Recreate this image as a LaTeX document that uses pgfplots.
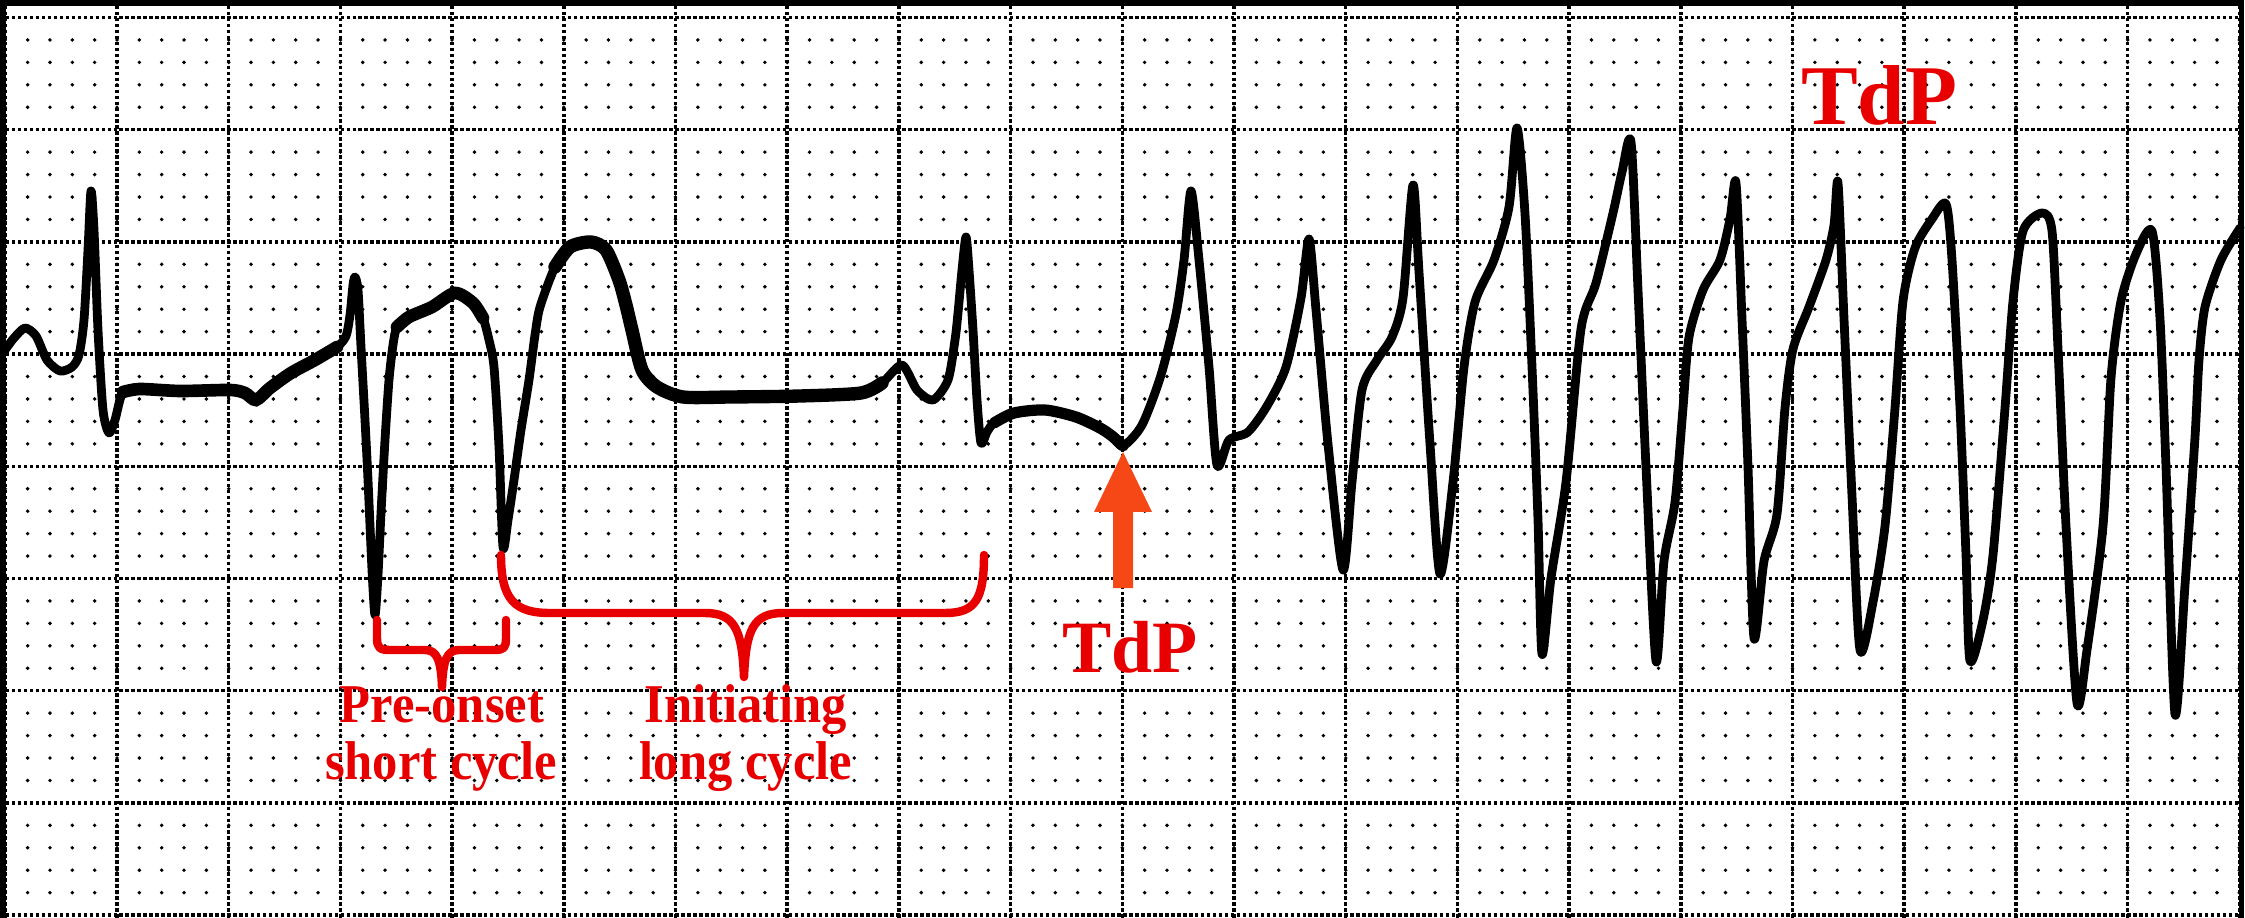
\documentclass[border=0pt]{standalone}
\usepackage{pgfplots}
\pgfplotsset{compat=1.18}
\usepackage{fontspec}
\setmainfont{Liberation Serif}
\definecolor{ecgred}{RGB}{232,0,0}
\definecolor{arroworange}{RGB}{245,72,22}

\begin{document}
\begin{tikzpicture}
\useasboundingbox (0,0) rectangle (22.45,9.18);
\begin{axis}[
  at={(0,0)}, anchor=south west,
  width=22.45cm, height=9.18cm, scale only axis,
  xmin=0, xmax=2245, ymin=0, ymax=918, y dir=reverse,
  axis line style={draw=none},
  xtick={5.3,117,228.7,340.4,452.1,563.8,675.5,787.2,898.9,1010.6,1122.3,1234.0,1345.7,1457.4,1569.1,1680.8,1792.5,1904.2,2015.9,2127.6,2239.3},
  ytick={17.5,129.7,241.9,354.1,466.3,578.5,690.7,802.9,915.1},
  minor y tick num=4,
  xticklabels={}, yticklabels={},
  tick style={draw=none},
  xmajorgrids, ymajorgrids, yminorgrids,
  major grid style={black, line width=1.0pt, dash pattern=on 1.0pt off 0.7pt},
  minor grid style={black, line width=1.1pt, line cap=round, dash pattern=on 0pt off 6.3564pt, dash phase=4.848pt},
]
% ECG trace
\addplot[black, line width=2.5pt, smooth, tension=0.45, line join=round, line cap=round] coordinates {
(5,350) (14,338) (25,328) (36,336) (47,360) (60,371) (72,367) (79,355) (84,320) (88,250) (91,191)
(94,230) (98,330) (103,410) (109,433) (115,420) (123,392) (140,389) (180,391) (230,390) (245,393)
(256,400) (270,388) (291,373) (315,360) (337,347) (346,336) (350,315) (353,285) (355,277)
(358,290) (361,347) (365,420) (368,480) (372,570) (375,615) (378,575) (381,513) (385,440) (389,380)
(393,345) (397,327) (409,317) (432,307) (455,293) (473,303) (483,318) (489,340) (494,367) (499,447)
(503,547) (508,520) (514,480) (521,430) (529,380) (535,335) (540,307) (555,267) (570,247) (591,242)
(606,250) (619,280) (626,305) (632,330) (642,370) (657,387) (683,397) (730,397) (800,396) (861,393)
(882,383) (902,365) (917,390) (933,400) (948,380) (955,340) (958,313) (962,270) (966,237)
(969,270) (973,330) (977,400) (981,443) (987,432) (994,423) (1014,413) (1045,410) (1076,417) (1100,428)
(1112,436) (1123,446) (1142,425) (1161,375) (1176,314) (1184,260) (1191,191)
(1199,260) (1209,367) (1217,465) (1229,440) (1248,432) (1267,406) (1286,367) (1301,298) (1309,239)
(1316,310) (1328,444) (1343,570) (1352,482) (1362,390) (1377,360) (1392,337) (1403,298) (1413,185)
(1419,272) (1430,444) (1440,574) (1453,482) (1464,367) (1475,302) (1494,260) (1509,207) (1517,128)
(1525,214) (1532,367) (1538,520) (1542,654) (1551,578) (1566,482) (1581,329) (1596,283) (1613,213) (1622,172) (1631,142)
(1638,290) (1646,467) (1656,661) (1664,561) (1675,502) (1683,408) (1689,337) (1703,290) (1720,260) (1730,219) (1736,183)
(1742,319) (1748,467) (1754,638) (1764,561) (1777,514) (1785,408) (1793,349) (1809,307) (1826,260) (1834,225) (1838,183)
(1844,319) (1852,496) (1860,650) (1873,602) (1885,526) (1895,408) (1903,301) (1915,248) (1932,219) (1946,204)
(1952,260) (1960,408) (1966,555) (1970,661) (1983,620) (1993,555) (2005,408) (2013,301) (2023,231) (2042,213)
(2052,231) (2058,349) (2066,526) (2077,703) (2087,650) (2103,526) (2111,378) (2121,301) (2136,254) (2152,231)
(2160,319) (2166,467) (2175,714) (2185,585) (2195,437) (2199,360) (2205,307) (2221,260) (2240,228)
};
% heavier pen on the slow segments
\addplot[black, line width=3.6pt, smooth, tension=0.45, line cap=round] coordinates {
(123,392) (140,389) (180,391) (230,390) (245,393) (256,400) (270,388) (291,373) (315,360) (337,347)};
\addplot[black, line width=3.6pt, smooth, tension=0.45, line cap=round] coordinates {
(397,327) (409,317) (432,307) (455,293) (473,303) (483,318)};
\addplot[black, line width=3.8pt, smooth, tension=0.45, line cap=round] coordinates {
(555,267) (570,247) (591,242) (606,250) (619,280) (626,305) (632,330) (642,370) (657,387) (683,397) (730,397) (800,396) (861,393) (882,383)};
\addplot[black, line width=3.2pt, smooth, tension=0.45, line cap=round] coordinates {
(994,423) (1014,413) (1045,410) (1076,417) (1100,428) (1112,436) (1123,446)};
% border
\draw[black, line width=1.6pt] (axis cs:2.8,918) -- (axis cs:2.8,2.8) -- (axis cs:2241.5,2.8) -- (axis cs:2241.5,918);
% braces
\draw[ecgred, line width=2.4pt, line cap=round, line join=round]
 (axis cs:377,620) -- (axis cs:377,638) .. controls (axis cs:377,648) and (axis cs:380,650) .. (axis cs:390,650)
 -- (axis cs:425,650) .. controls (axis cs:437,650) and (axis cs:441,660) .. (axis cs:442,687)
 .. controls (axis cs:443,660) and (axis cs:447,650) .. (axis cs:459,650)
 -- (axis cs:494,650) .. controls (axis cs:504,650) and (axis cs:506,648) .. (axis cs:506,638) -- (axis cs:506,620);
\draw[ecgred, line width=2.4pt, line cap=round, line join=round]
 (axis cs:501,555) .. controls (axis cs:501,600) and (axis cs:515,613) .. (axis cs:550,613)
 -- (axis cs:705,613) .. controls (axis cs:735,613) and (axis cs:742,630) .. (axis cs:744,677)
 .. controls (axis cs:746,630) and (axis cs:753,613) .. (axis cs:783,613)
 -- (axis cs:945,613) .. controls (axis cs:975,613) and (axis cs:984,600) .. (axis cs:984,555);
% arrow
\fill[arroworange] (axis cs:1123,452) -- (axis cs:1152,512) -- (axis cs:1133,512) -- (axis cs:1133,588)
 -- (axis cs:1113,588) -- (axis cs:1113,512) -- (axis cs:1094,512) -- cycle;
% labels
\node[anchor=base, inner sep=0pt, text=ecgred, yscale=1.08, font=\bfseries\fontsize{14.4}{16}\selectfont] at (axis cs:442,722) {Pre-onset};
\node[anchor=base, inner sep=0pt, text=ecgred, yscale=1.08, font=\bfseries\fontsize{14.4}{16}\selectfont] at (axis cs:441,779) {short cycle};
\node[anchor=base, inner sep=0pt, text=ecgred, yscale=1.08, font=\bfseries\fontsize{14.4}{16}\selectfont] at (axis cs:746,722) {Initiating};
\node[anchor=base, inner sep=0pt, text=ecgred, yscale=1.08, font=\bfseries\fontsize{14.4}{16}\selectfont] at (axis cs:746,779) {long cycle};
\node[anchor=base, inner sep=0pt, text=ecgred, font=\bfseries\fontsize{21}{24}\selectfont] at (axis cs:1130,672) {TdP};
\node[anchor=base, inner sep=0pt, text=ecgred, font=\bfseries\fontsize{24.2}{28}\selectfont] at (axis cs:1879,125) {TdP};
\end{axis}
\end{tikzpicture}
\end{document}
